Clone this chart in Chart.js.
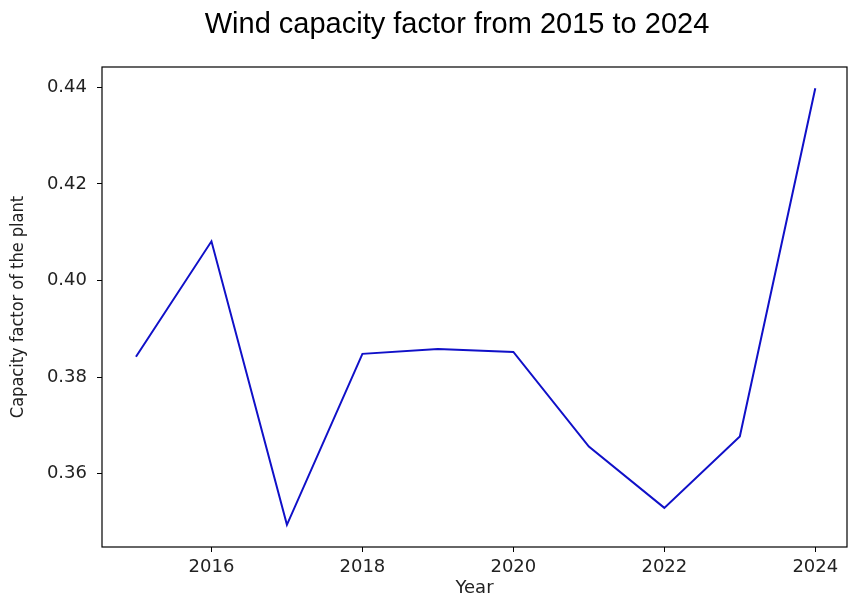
<!DOCTYPE html>
<html>
<head>
<meta charset="utf-8">
<script src="https://cdn.jsdelivr.net/npm/chart.js@4.4.1/dist/chart.umd.min.js"></script>
<style>
  html, body { margin: 0; padding: 0; background: #fff; }
  #wrap { width: 849px; height: 599px; }
</style>
</head>
<body>
<div id="wrap"><canvas id="myChart" width="849" height="599"></canvas></div>
<script>
const years = [2015, 2016, 2017, 2018, 2019, 2020, 2021, 2022, 2023, 2024];
const capacityFactor = [0.3842, 0.4081, 0.3494, 0.3848, 0.3858, 0.3852, 0.3656, 0.3529, 0.3677, 0.4398];
const xTicks = [2016, 2018, 2020, 2022, 2024];
const yTicks = [0.36, 0.38, 0.40, 0.42, 0.44];
const chartTitle = 'Wind capacity factor from 2015 to 2024';

const ctx = document.getElementById('myChart').getContext('2d');

// frame round the plot and the title on top
const framePlugin = {
    id: 'frame',
    afterDraw(chart) {
        const a = chart.chartArea;
        const c = chart.ctx;
        c.save();
        c.strokeStyle = '#000';
        c.lineWidth = 1.2;
        c.strokeRect(a.left, a.top, a.right - a.left, a.bottom - a.top);
        c.fillStyle = '#000';
        c.font = '29px "Liberation Sans", Arial, sans-serif';
        c.textAlign = 'center';
        c.textBaseline = 'middle';
        c.fillText(chartTitle, 457, 25);
        c.restore();
    }
};

const data = {
    datasets: [{
        label: 'Capacity factor',
        data: years.map((y, i) => ({ x: y, y: capacityFactor[i] })),
        borderColor: '#1010c8',
        backgroundColor: '#1010c8',
        borderWidth: 2,
        pointRadius: 0,
        tension: 0
    }]
};

const tickFont = { family: '"DejaVu Sans", sans-serif', size: 18 };

const config = {
    type: 'line',
    data: data,
    options: {
        responsive: false,
        animation: false,
        layout: { padding: { top: 67, right: 2, left: 8, bottom: 0 } },
        plugins: {
            legend: { display: false },
            tooltip: { enabled: false }
        },
        scales: {
            x: {
                type: 'linear',
                min: 2014.55,
                max: 2024.42,
                afterBuildTicks: s => { s.ticks = xTicks.map(v => ({ value: v })); },
                afterFit: s => { s.height = 52; },
                grid: { drawOnChartArea: false, drawTicks: true, tickLength: 5, color: '#000' },
                border: { display: false },
                ticks: {
                    color: '#222',
                    font: tickFont,
                    padding: 5,
                    maxRotation: 0,
                    callback: v => String(v)
                },
                title: {
                    display: true,
                    text: 'Year',
                    color: '#222',
                    font: { family: '"DejaVu Sans", sans-serif', size: 18 },
                    padding: { top: 0, bottom: 0 }
                }
            },
            y: {
                type: 'linear',
                min: 0.3448,
                max: 0.4442,
                afterBuildTicks: s => { s.ticks = yTicks.map(v => ({ value: v })); },
                afterFit: s => { s.width = 94; },
                grid: { drawOnChartArea: false, drawTicks: true, tickLength: 5, color: '#000' },
                border: { display: false },
                ticks: {
                    color: '#222',
                    font: tickFont,
                    padding: 10,
                    callback: v => v.toFixed(2)
                },
                title: {
                    display: true,
                    text: 'Capacity factor of the plant',
                    color: '#222',
                    font: { family: '"DejaVu Sans Condensed", "DejaVu Sans", sans-serif', size: 18 },
                    padding: { top: 0, bottom: 0 }
                }
            }
        }
    },
    plugins: [framePlugin]
};

const windChart = new Chart(ctx, config);
</script>
</body>
</html>
